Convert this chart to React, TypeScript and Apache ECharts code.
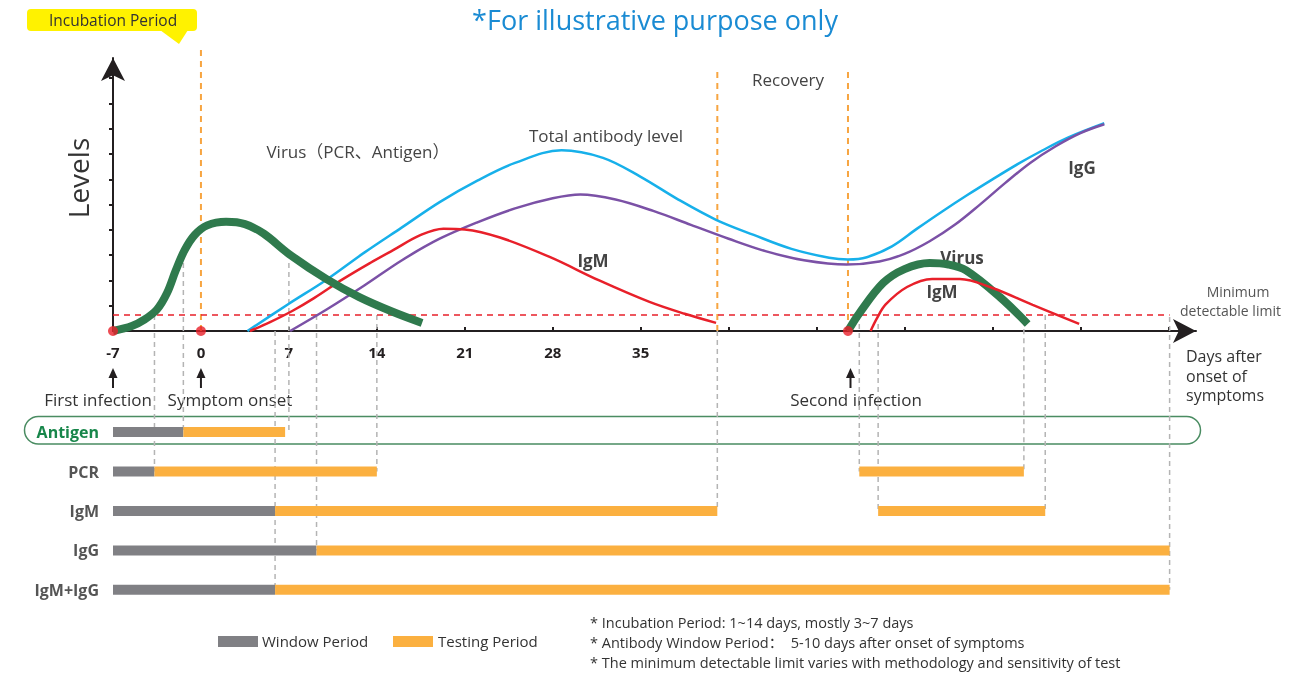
import React, { useEffect, useRef } from 'react';
import * as echarts from 'echarts';

// ---- axis ticks / labels ----
const dayTicks = [-7, 0, 7, 14, 21, 28, 35, 42, 49, 56, 63, 70, 77];
const dayLabels = [-7, 0, 7, 14, 21, 28, 35];
const levelTicks = [10, 20, 30, 40, 50, 60, 70, 80, 90, 100];

// ---- curves: [day, level] ----
const virusFirst = [
  [-7, 0], [-5.5, 2], [-4.5, 4.5], [-3.5, 8.5], [-2.7, 15], [-2, 24], [-1.3, 32],
  [-0.5, 38], [0.5, 41.8], [2, 43.2], [3.5, 42.3], [5, 38.5], [7, 30.5], [10, 20.5],
  [12.6, 13.4], [15.3, 7.5], [17.6, 3.2],
];
const totalAntibody = [
  [3.7, 0], [7, 10.8], [10, 20.3], [13, 31], [16, 41], [19, 51], [22, 59.5], [25, 66.5],
  [28.7, 71.5], [32, 68.5], [35, 61], [38, 52], [41, 44], [44, 38], [47, 32.5], [50, 29],
  [51.5, 28.3], [53, 29.2], [55, 33.5], [57, 40.5], [59, 47.3], [61, 53.8], [63, 60],
  [65, 66], [67, 71.5], [69, 76.5], [71.9, 82.2],
];
const igG = [
  [7.1, 0], [10, 8.5], [13, 18], [16, 28], [19, 36.5], [22, 43], [25, 48.5], [28, 52.5],
  [30.2, 54], [33, 52], [36, 47.5], [39, 42], [42, 36.5], [45, 31.5], [48, 28], [51.4, 26.3],
  [54, 27.5], [56, 30.5], [58, 35.5], [60, 42], [62, 50], [64, 58.5], [66, 66.5],
  [68, 73], [70, 78.3], [71.9, 81.8],
];
const igMFirst = [
  [3.9, 0], [5.5, 3.5], [7.3, 8], [9, 13], [11.3, 20.5], [13.5, 27], [15.3, 32], [17.5, 38],
  [19.3, 40.5], [21, 40.2], [23.8, 37], [27.8, 29.2], [31.7, 20], [35.7, 11.5], [38.5, 6.8],
  [41, 3.2],
];
const virusSecond = [
  [51.5, 0], [52.4, 7], [54.3, 19], [56, 24.5], [58, 26.9], [59.5, 26.3], [60.9, 24],
  [63.6, 13.4], [65.8, 2.8],
];
const igMSecond = [
  [53.3, 0], [53.8, 5], [54.5, 10.5], [56.2, 17.4], [58.2, 20.6], [60.4, 20.6],
  [63, 17], [66.2, 10.3], [69.9, 2.8],
];
const minDetectable = 6.3;
const minDetectableSpan = [-7, 77.1];

// ---- events ----
const eventDays = [-7, 0, 51.5];
const arrowDays = [-7, 0, 51.7];
const phaseLineDays = [0, 41.1, 51.5];
const phaseLineTops = [112, 104.4, 104.4];

// ---- test timeline ----
const rowNames = ['Antigen', 'PCR', 'IgM', 'IgG', 'IgM+IgG'];
const windowEnd = [-1.4, -3.7, 5.9, 9.2, 5.9];
const testEnd = [6.7, 14, 41.1, 77.1, 77.1];
const secondTestStart = [null, 52.4, 53.9, null, null];
const secondTestEnd = [null, 65.5, 67.2, null, null];
const connectorDays = [-3.7, -1.4, 5.9, 7, 9.2, 14, 41.1, 52.4, 53.9, 65.5, 67.2, 77.1];
const connectorTops = [6.3, 26.9, 0, 26.9, 6.3, 6.3, 0, 6.3, 2.8, 4.3, 6.3, 5.5];
const connectorRows = [1, 0, 4, 0, 3, 1, 2, 1, 2, 1, 2, 4];

const FONT = '"Open Sans", "Noto Sans CJK SC", sans-serif';
const GRAY = '#808084';
const ORANGE = '#fbb040';
const rowLevel = (i: number) => -40 - i * 15.6;

export default function App() {
  const ref = useRef<HTMLDivElement>(null);
  useEffect(() => {
    document.body.style.margin = '0';
    const chart = echarts.init(ref.current!, null, { renderer: 'svg' });

    const barData: any[] = [];
    rowNames.forEach((_, i) => {
      barData.push([-7, windowEnd[i], i, 0]);
      barData.push([windowEnd[i], testEnd[i], i, 1]);
      if (secondTestStart[i] != null) barData.push([secondTestStart[i], secondTestEnd[i], i, 1]);
    });

    const curve = (data: number[][], color: string, width: number, z: number) => ({
      type: 'line', data, smooth: 0.35, symbol: 'none', showSymbol: false, z,
      lineStyle: { color, width, cap: 'butt' }, silent: true,
    });

    const text = (t: string, x: number, y: number, size: number, extra: any = {}) => ({
      type: 'text', x, y,
      style: { text: t, fontSize: size, fontFamily: FONT, fill: '#333', align: 'center', verticalAlign: 'middle', ...extra },
    });

    chart.setOption({
      animation: false,
      grid: { left: 113, right: 96, top: 58, bottom: 345, containLabel: false },
      xAxis: {
        type: 'value', min: -7, max: 79.2, interval: 7,
        splitLine: { show: false },
        axisLine: { lineStyle: { color: '#231f20', width: 2 }, symbol: ['none', 'arrow'], symbolSize: [18, 23] },
        axisTick: { show: true, inside: true, length: 4, customValues: dayTicks, lineStyle: { color: '#231f20', width: 2 } },
        axisLabel: { customValues: dayLabels, margin: 13, fontSize: 15, fontWeight: 'bold', color: '#231f20', fontFamily: FONT },
      },
      yAxis: {
        type: 'value', min: 0, max: 108, interval: 10,
        splitLine: { show: false },
        axisLine: { show: true, onZero: false, lineStyle: { color: '#231f20', width: 2 }, symbol: ['none', 'arrow'], symbolSize: [18, 23] },
        axisTick: { show: true, length: 4, customValues: levelTicks, lineStyle: { color: '#231f20', width: 2 } },
        axisLabel: { show: false },
      },
      series: [
        {
          type: 'custom', clip: false, silent: true, z: 1,
          data: connectorDays.map((d, i) => [d, connectorTops[i], connectorRows[i]]),
          renderItem: (_p: any, api: any) => {
            const a = api.coord([api.value(0), api.value(1)]);
            const b = api.coord([api.value(0), rowLevel(api.value(2))]);
            return { type: 'line', shape: { x1: a[0], y1: a[1], x2: b[0], y2: b[1] }, style: { stroke: '#b4b4b4', lineWidth: 1.5, lineDash: [5, 4] } };
          },
        },
        {
          type: 'custom', clip: false, silent: true, z: 1,
          data: phaseLineDays.map((d, i) => [d, phaseLineTops[i]]),
          renderItem: (_p: any, api: any) => {
            const a = api.coord([api.value(0), 0]);
            const b = api.coord([api.value(0), api.value(1)]);
            return { type: 'line', shape: { x1: a[0], y1: a[1], x2: b[0], y2: b[1] }, style: { stroke: '#f7a541', lineWidth: 2, lineDash: [6, 5] } };
          },
        },
        {
          type: 'line', silent: true, symbol: 'none', z: 2,
          data: minDetectableSpan.map((d) => [d, minDetectable]),
          lineStyle: { color: '#e8202a', width: 1.5, type: [6, 5] },
        },
        curve(totalAntibody, '#17b0ea', 2.5, 3),
        curve(igG, '#7b51a6', 2.5, 3),
        curve(igMFirst, '#e8202a', 2.5, 3),
        curve(virusSecond, '#2f7a4d', 8, 3),
        curve(igMSecond, '#e8202a', 2.5, 4),
        curve(virusFirst, '#2f7a4d', 8, 5),
        {
          type: 'scatter', silent: true, z: 6, symbolSize: 10,
          data: eventDays.map((d) => [d, 0]),
          itemStyle: { color: '#e8202a' },
        },
        {
          type: 'custom', clip: false, silent: true, z: 6,
          data: arrowDays.map((d) => [d, 0]),
          renderItem: (_p: any, api: any) => {
            const a = api.coord([api.value(0), 0]);
            return {
              type: 'group', children: [
                { type: 'line', shape: { x1: a[0], y1: a[1] + 44, x2: a[0], y2: a[1] + 57 }, style: { stroke: '#231f20', lineWidth: 2 } },
                { type: 'polygon', shape: { points: [[a[0] - 4.5, a[1] + 47], [a[0] + 4.5, a[1] + 47], [a[0], a[1] + 37]] }, style: { fill: '#231f20' } },
              ],
            };
          },
        },
        {
          type: 'custom', clip: false, silent: true, z: 7,
          data: barData,
          renderItem: (_p: any, api: any) => {
            const r = api.value(2);
            const a = api.coord([api.value(0), rowLevel(r)]);
            const b = api.coord([api.value(1), rowLevel(r)]);
            return { type: 'rect', shape: { x: a[0], y: a[1] - 5, width: b[0] - a[0], height: 10 }, style: { fill: api.value(3) ? ORANGE : GRAY } };
          },
        },
        {
          type: 'custom', clip: false, silent: true, z: 7,
          data: rowNames.map((_, i) => [-7, i]),
          renderItem: (p: any, api: any) => {
            const a = api.coord([-7, rowLevel(api.value(1))]);
            const isAg = p.dataIndex === 0;
            return {
              type: 'text', x: a[0] - 14, y: a[1],
              style: { text: rowNames[p.dataIndex], fontSize: 16, fontWeight: 'bold', fontFamily: FONT, fill: isAg ? '#17864a' : '#555', align: 'right', verticalAlign: 'middle' },
            };
          },
        },
      ],
      graphic: [
        text('*For illustrative purpose only', 655, 19, 27, { fill: '#1a8bd3' }),
        { type: 'rect', shape: { x: 27, y: 9, width: 170, height: 22, r: 4 }, style: { fill: '#fff200' } },
        { type: 'polygon', shape: { points: [[160, 30], [188, 30], [179, 44]] }, style: { fill: '#fff200' } },
        text('Incubation Period', 113, 20, 15.5),
        { type: 'text', x: 78, y: 178, rotation: Math.PI / 2, style: { text: 'Levels', fontSize: 28, fontFamily: FONT, fill: '#333', align: 'center', verticalAlign: 'middle' } },
        text('Virus（PCR、Antigen）', 358, 151, 17, { fill: '#444' }),
        text('Total antibody level', 606, 135, 17, { fill: '#444' }),
        text('Recovery', 788, 79, 17, { fill: '#444' }),
        text('IgM', 593, 260, 17, { fontWeight: 'bold', fill: '#444' }),
        text('IgG', 1082, 167, 17, { fontWeight: 'bold', fill: '#444' }),
        text('Virus', 962, 257, 17, { fontWeight: 'bold', fill: '#444' }),
        text('IgM', 942, 291, 17, { fontWeight: 'bold', fill: '#444' }),
        text('Minimum', 1238, 291, 14, { fill: '#555' }),
        text('detectable limit', 1180, 310, 14, { fill: '#555', align: 'left' }),
        text('Days after', 1186, 356, 16, { align: 'left' }),
        text('onset of', 1186, 375.5, 16, { align: 'left' }),
        text('symptoms', 1186, 395, 16, { align: 'left' }),
        text('First infection', 98, 399, 17),
        text('Symptom onset', 230, 399, 17),
        text('Second infection', 856, 399, 17),
        { type: 'rect', shape: { x: 24.5, y: 416.5, width: 1176, height: 27.5, r: 14 }, style: { fill: 'none', stroke: '#4a8c62', lineWidth: 1.5 } },
        { type: 'rect', shape: { x: 218, y: 636, width: 40, height: 11 }, style: { fill: GRAY } },
        text('Window Period', 262, 641, 15, { align: 'left' }),
        { type: 'rect', shape: { x: 393, y: 636, width: 40, height: 11 }, style: { fill: ORANGE } },
        text('Testing Period', 438, 641, 15, { align: 'left' }),
        text('* Incubation Period: 1~14 days, mostly 3~7 days', 590, 622, 14.5, { align: 'left' }),
        text('* Antibody Window Period：  5-10 days after onset of symptoms', 590, 642, 14.5, { align: 'left' }),
        text('* The minimum detectable limit varies with methodology and sensitivity of test', 590, 662, 14.5, { align: 'left' }),
      ],
    });
    return () => chart.dispose();
  }, []);
  return <div ref={ref} style={{ position: 'fixed', left: 0, top: 0, width: 1292, height: 676 }} />;
}
